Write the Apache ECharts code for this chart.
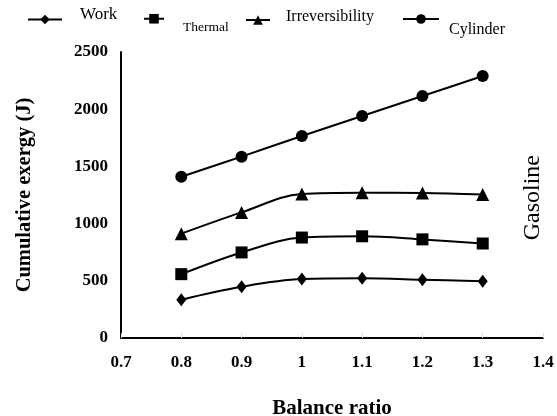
<!DOCTYPE html>
<html>
<head>
<meta charset="utf-8">
<script src="https://cdn.jsdelivr.net/npm/echarts@6/dist/echarts.min.js"></script>
<style>
  html, body { margin: 0; padding: 0; background: #fff; }
  #chart { width: 557px; height: 416px; }
</style>
</head>
<body>
<div id="chart"></div>
<script>
const balanceRatio = [0.8, 0.9, 1.0, 1.1, 1.2, 1.3]
const work = [335, 448, 515, 522, 510, 495]
const thermal = [558, 748, 878, 889, 862, 826]
const irreversibility = [912, 1098, 1259, 1270, 1268, 1255]
const cylinder = [1410, 1585, 1766, 1940, 2115, 2290]

const serif = '"Liberation Serif", "Times New Roman", serif'

function pairs(values) {
  return balanceRatio.map((x, i) => [x, values[i]])
}

function lineSeries(name, values, symbol, size) {
  return {
    name,
    type: 'line',
    data: pairs(values),
    smooth: 0.35,
    symbol,
    symbolSize: size,
    lineStyle: { color: '#000', width: 2 },
    itemStyle: { color: '#000' },
  }
}

// shift > 0 moves the label down, < 0 up (relative to the icon)
function legendFor(name, left, top, width, padLeft, fontSize, shift) {
  const spacer = '{s| }'
  const label = '{t|' + name + '}'
  return {
    data: [name],
    left,
    top,
    itemWidth: width,
    itemHeight: 12,
    formatter: shift > 0 ? spacer + '\n' + label : label + '\n' + spacer,
    textStyle: {
      color: '#000',
      fontFamily: serif,
      fontSize,
      padding: [0, 0, 0, padLeft],
      rich: {
        t: { fontFamily: serif, fontSize, color: '#000', lineHeight: fontSize + 2 },
        s: { fontSize: 2, height: Math.abs(shift) * 2, lineHeight: Math.abs(shift) * 2 },
      },
    },
  }
}

const chart = echarts.init(document.getElementById('chart'))

chart.setOption({
  animation: false,
  grid: { left: 121, right: 14, top: 52, bottom: 78, outerBoundsMode: 'none' },
  legend: [
    legendFor('Work', 22, 1, 34, 13, 17, -5),
    legendFor('Thermal', 138, -3, 20, 14, 13.5, 9),
    legendFor('Irreversibility', 240, 4, 24, 11, 16, -3),
    legendFor('Cylinder', 397, -6, 36, 5, 16, 11),
  ],
  xAxis: {
    type: 'value',
    min: 0.7,
    max: 1.4,
    interval: 0.1,
    name: 'Balance ratio',
    nameLocation: 'middle',
    nameGap: 60,
    nameTextStyle: { color: '#000', fontFamily: serif, fontWeight: 'bold', fontSize: 21 },
    axisLine: { lineStyle: { color: '#000', width: 2 } },
    axisTick: { show: true, inside: true, length: 5, lineStyle: { color: '#ddd' } },
    splitLine: { show: false },
    axisLabel: {
      color: '#000',
      fontFamily: serif,
      fontWeight: 'bold',
      fontSize: 17,
      margin: 16,
      formatter: (v) => String(+v.toFixed(1)),
    },
  },
  yAxis: {
    type: 'value',
    min: 0,
    max: 2500,
    interval: 500,
    name: 'Cumulative exergy (J)',
    nameLocation: 'middle',
    nameGap: 86,
    nameTextStyle: { color: '#000', fontFamily: serif, fontWeight: 'bold', fontSize: 20.5 },
    axisLine: { show: true, lineStyle: { color: '#000', width: 2 } },
    axisTick: { show: false },
    splitLine: { show: false },
    axisLabel: {
      color: '#000',
      fontFamily: serif,
      fontWeight: 'bold',
      fontSize: 17,
      margin: 13,
      formatter: (v) => String(v),
    },
  },
  graphic: [
    {
      type: 'text',
      left: 521,
      top: 155,
      rotation: Math.PI / 2,
      style: {
        text: 'Gasoline',
        fill: '#000',
        font: '24px "Liberation Serif", serif',
      },
    },
  ],
  series: [
    lineSeries('Work', work, 'diamond', [10, 13]),
    lineSeries('Thermal', thermal, 'rect', 12),
    lineSeries('Irreversibility', irreversibility, 'triangle', 13),
    lineSeries('Cylinder', cylinder, 'circle', 12),
  ],
})
</script>
</body>
</html>
